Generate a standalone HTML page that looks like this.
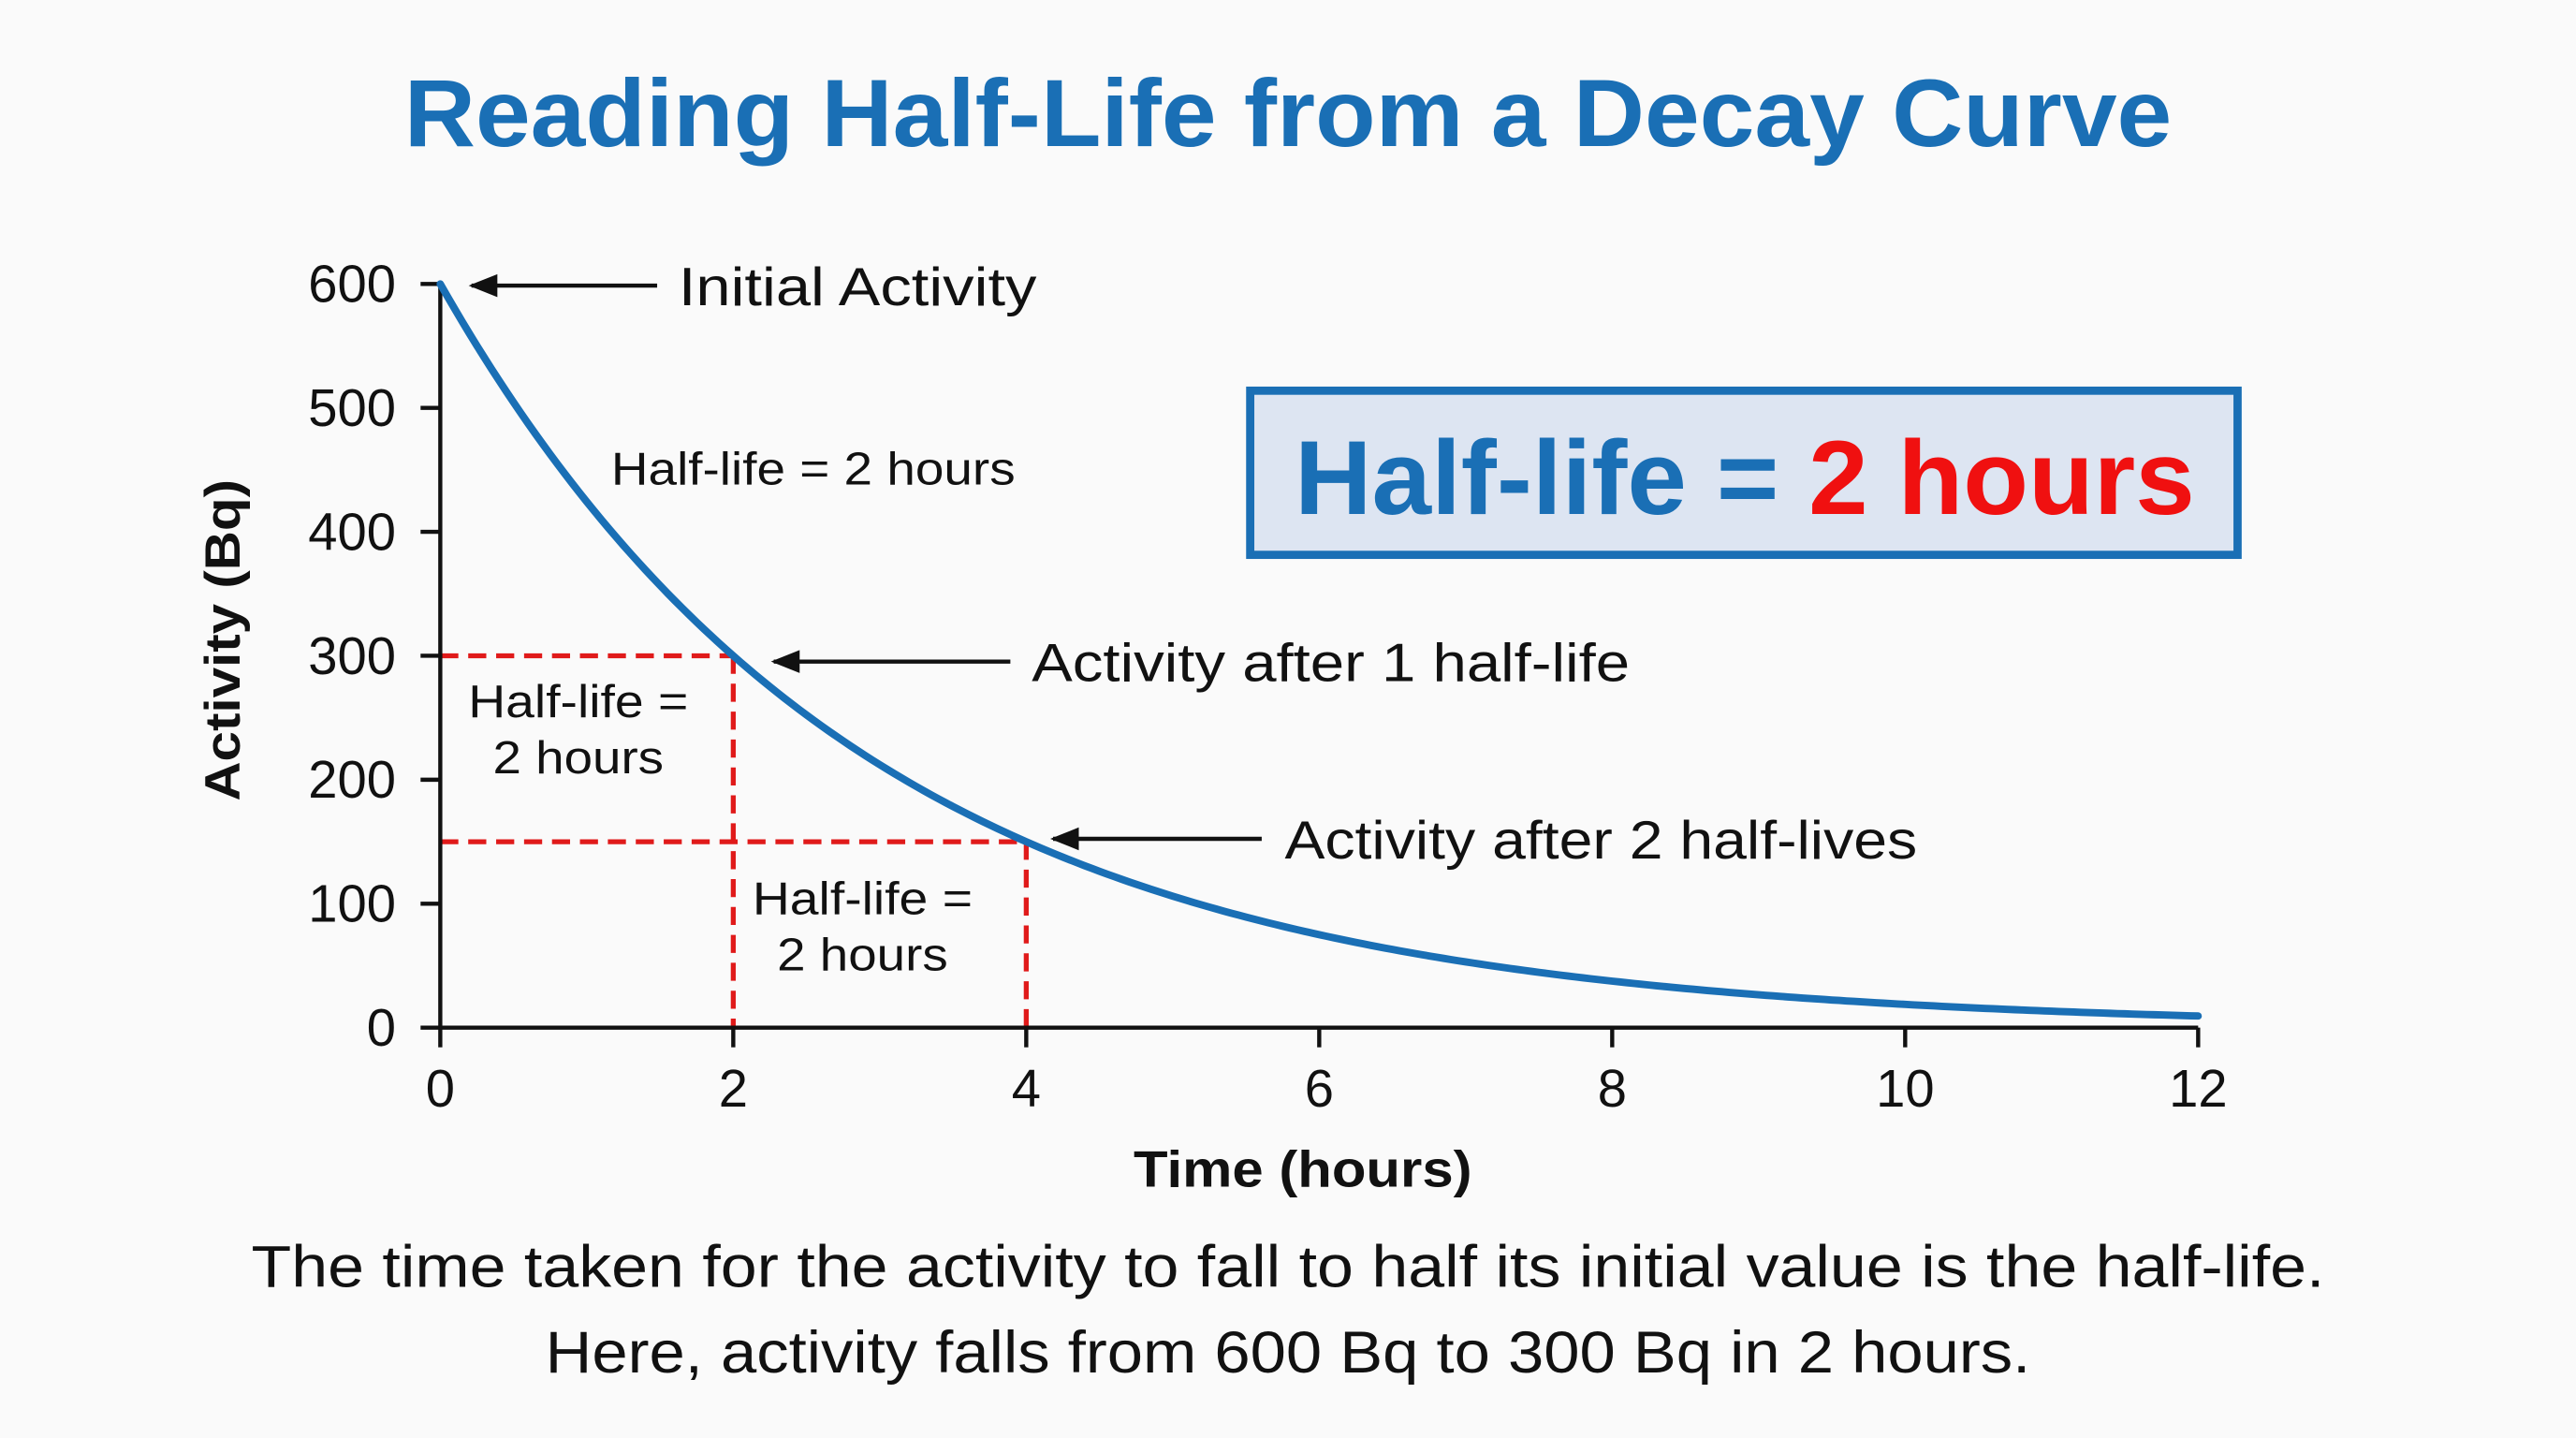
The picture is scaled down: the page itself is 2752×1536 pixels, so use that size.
<!DOCTYPE html>
<html><head><meta charset="utf-8">
<style>
html,body{margin:0;padding:0;background:#fafafa;}
svg{display:block;}
text{font-family:"Liberation Sans",sans-serif;}
</style></head>
<body>
<svg id="chart" width="2752" height="1536" viewBox="0 0 1568 876" preserveAspectRatio="none" xmlns="http://www.w3.org/2000/svg">
<defs>
<marker id="ah" viewBox="0 0 10 10" refX="9" refY="5" markerWidth="7" markerHeight="7" orient="auto-start-reverse">
<path d="M0,1 L10,5 L0,9 z" fill="#111"/></marker>
</defs>
<rect width="1568" height="876" fill="#fafafa"/>
<text x="784" y="89" text-anchor="middle" font-size="58" font-weight="bold" fill="#1a6fb5" textLength="1076" lengthAdjust="spacingAndGlyphs">Reading Half-Life from a Decay Curve</text>
<g id="plot"></g>
<g>
<rect x="761" y="238" width="601" height="100" fill="#dde5f2" stroke="#1a6fb5" stroke-width="5"/>
<text x="788" y="313" font-size="64" font-weight="bold" textLength="548" lengthAdjust="spacingAndGlyphs"><tspan fill="#1a6fb5">Half-life = </tspan><tspan fill="#f01010">2 hours</tspan></text>
</g>
<text transform="translate(146,390) rotate(-90)" text-anchor="middle" font-size="30" font-weight="bold" fill="#111" textLength="196" lengthAdjust="spacingAndGlyphs">Activity (Bq)</text>
<text x="793" y="723" text-anchor="middle" font-size="31" font-weight="bold" fill="#111" textLength="206" lengthAdjust="spacingAndGlyphs">Time (hours)</text>
<g fill="#111" font-size="33">
<line x1="400" y1="174" x2="287" y2="174" stroke="#111" stroke-width="2.5" marker-end="url(#ah)"/>
<text x="413" y="186" textLength="218" lengthAdjust="spacingAndGlyphs">Initial Activity</text>
<text x="372" y="295" font-size="28" textLength="246" lengthAdjust="spacingAndGlyphs">Half-life = 2 hours</text>
<line x1="615" y1="403" x2="471" y2="403" stroke="#111" stroke-width="2.5" marker-end="url(#ah)"/>
<text x="628" y="415" textLength="364" lengthAdjust="spacingAndGlyphs">Activity after 1 half-life</text>
<line x1="768" y1="511" x2="641" y2="511" stroke="#111" stroke-width="2.5" marker-end="url(#ah)"/>
<text x="782" y="523" textLength="385" lengthAdjust="spacingAndGlyphs">Activity after 2 half-lives</text>
<g font-size="28" text-anchor="middle">
<text x="352" y="437" textLength="134" lengthAdjust="spacingAndGlyphs">Half-life =</text>
<text x="352" y="471" textLength="104" lengthAdjust="spacingAndGlyphs">2 hours</text>
<text x="525" y="557" textLength="134" lengthAdjust="spacingAndGlyphs">Half-life =</text>
<text x="525" y="591" textLength="104" lengthAdjust="spacingAndGlyphs">2 hours</text>
</g>
</g>
<g font-size="36" fill="#111" text-anchor="middle">
<text x="784" y="784" textLength="1262" lengthAdjust="spacingAndGlyphs">The time taken for the activity to fall to half its initial value is the half-life.</text>
<text x="784" y="836" textLength="904" lengthAdjust="spacingAndGlyphs">Here, activity falls from 600 Bq to 300 Bq in 2 hours.</text>
</g>
</svg>
<script>
const xTicks = [0, 2, 4, 6, 8, 10, 12];
const yTicks = [0, 100, 200, 300, 400, 500, 600];
const initialActivity = [600];
const halfLifeHours = [2];
const markerTimes = [2, 4];
const markerValues = [300, 150];

const NS = "http://www.w3.org/2000/svg";
const plot = document.getElementById('plot');
const X0 = 268, X1 = 1338, Y0 = 626, Y1 = 173;
function xs(t){ return X0 + (t - 0) / (12 - 0) * (X1 - X0); }
function ys(v){ return Y0 - (v - 0) / (600 - 0) * (Y0 - Y1); }
function mk(tag, attrs){ const e = document.createElementNS(NS, tag); for (const k in attrs) e.setAttribute(k, attrs[k]); plot.appendChild(e); return e; }

markerTimes.forEach((t, i) => {
  const h = mk('line', {x1: X0, y1: ys(markerValues[i]), x2: xs(t), y2: ys(markerValues[i]), stroke: '#e01a1a', 'stroke-width': 3, 'stroke-dasharray': '11 6'});
  
  
  const v = mk('line', {x1: xs(t), y1: ys(markerValues[i]), x2: xs(t), y2: Y0, stroke: '#e01a1a', 'stroke-width': 3, 'stroke-dasharray': '11 6'});
  
  
});

const ya = mk('line', {x1: X0, y1: Y1, x2: X0, y2: Y0, stroke: '#111', 'stroke-width': 2.5});


const xa = mk('line', {x1: X0, y1: Y0, x2: X1, y2: Y0, stroke: '#111', 'stroke-width': 2.5});



yTicks.forEach(v => {
  const l = mk('line', {x1: X0 - 12, y1: ys(v), x2: X0, y2: ys(v), stroke: '#111', 'stroke-width': 2.5});
  
  
  const t = mk('text', {x: 241, y: ys(v) + 11, 'text-anchor': 'end', 'font-size': 32, fill: '#111'});
  t.textContent = v;
  
  
});
xTicks.forEach(v => {
  const l = mk('line', {x1: xs(v), y1: Y0, x2: xs(v), y2: Y0 + 12, stroke: '#111', 'stroke-width': 2.5});
  
  
  const t = mk('text', {x: xs(v), y: 674, 'text-anchor': 'middle', 'font-size': 32, fill: '#111'});
  t.textContent = v;
  
  
});

let d = '';
for (let i = 0; i <= 240; i++) {
  const t = i * 12 / 240;
  const v = initialActivity[0] * Math.pow(0.5, t / halfLifeHours[0]);
  d += (i ? 'L' : 'M') + xs(t).toFixed(2) + ',' + ys(v).toFixed(2);
}
const c = mk('path', {d: d, fill: 'none', stroke: '#1a6fb5', 'stroke-width': 4.5, 'stroke-linecap': 'round'});


</script>
</body></html>
